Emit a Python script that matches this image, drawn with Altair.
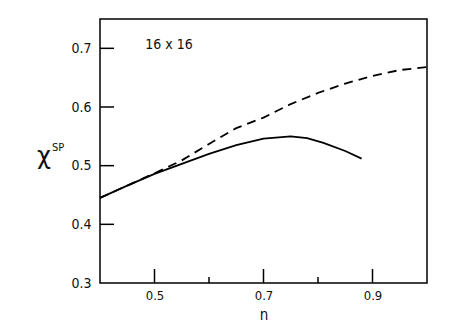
import altair as alt
import pandas as pd

# data
n_solid = [0.40, 0.45, 0.50, 0.55, 0.60, 0.65, 0.70, 0.75, 0.78, 0.81, 0.85, 0.88]
chi_solid = [0.445, 0.466, 0.486, 0.503, 0.520, 0.535, 0.546, 0.550, 0.547, 0.539, 0.525, 0.512]

n_dashed = [0.40, 0.45, 0.50, 0.55, 0.60, 0.65, 0.70, 0.75, 0.80, 0.85, 0.90, 0.95, 1.00]
chi_dashed = [0.445, 0.466, 0.487, 0.509, 0.537, 0.564, 0.582, 0.605, 0.624, 0.640, 0.653, 0.663, 0.668]

x_major = [0.5, 0.7, 0.9]
x_minor = [0.6, 0.8]
y_ticks = [0.4, 0.5, 0.6, 0.7]
y_labels = [0.3, 0.4, 0.5, 0.6, 0.7]

W, H = 327, 264
FONT = "DejaVu Sans Condensed"

solid = pd.DataFrame({"n": n_solid, "chi": chi_solid})
dashed = pd.DataFrame({"n": n_dashed, "chi": chi_dashed})

xs = alt.Scale(domain=[0.4, 1.0], nice=False, zero=False)
ys = alt.Scale(domain=[0.3, 0.75], nice=False, zero=False)

x_axis = alt.Axis(values=x_major, format=".1f", ticks=False, domain=False, grid=False,
                  labelFont=FONT, labelFontSize=13, labelColor="#111", labelPadding=6,
                  title=None)
y_axis = alt.Axis(values=y_labels, format=".1f", ticks=False, domain=False, grid=False,
                  labelFont=FONT, labelFontSize=14, labelColor="#111", labelPadding=9,
                  title=None)

frame = alt.Chart(pd.DataFrame({"a": [0]})).mark_rect(
    fill="transparent", stroke="black", strokeWidth=1.5
).encode(x=alt.value(0), x2=alt.value(W), y=alt.value(0), y2=alt.value(H))

l_solid = alt.Chart(solid).mark_line(color="black", strokeWidth=1.8).encode(
    x=alt.X("n:Q", scale=xs, axis=x_axis),
    y=alt.Y("chi:Q", scale=ys, axis=y_axis),
)
l_dashed = alt.Chart(dashed).mark_line(color="black", strokeWidth=1.8, strokeDash=[9, 6]).encode(
    x=alt.X("n:Q", scale=xs),
    y=alt.Y("chi:Q", scale=ys),
)

yt = alt.Chart(pd.DataFrame({"y": y_ticks})).mark_rule(color="black", strokeWidth=1.5).encode(
    y=alt.Y("y:Q", scale=ys), x=alt.value(0), x2=alt.value(14)
)
xmaj = alt.Chart(pd.DataFrame({"x": x_major})).mark_rule(color="black", strokeWidth=1.5).encode(
    x=alt.X("x:Q", scale=xs), y=alt.value(H), y2=alt.value(H - 14)
)
xmin = alt.Chart(pd.DataFrame({"x": x_minor})).mark_rule(color="black", strokeWidth=1.5).encode(
    x=alt.X("x:Q", scale=xs), y=alt.value(H), y2=alt.value(H - 6)
)

label16 = alt.Chart(pd.DataFrame({"t": ["16  x  16"]})).mark_text(
    font=FONT, fontSize=14, color="#111", align="center", baseline="middle"
).encode(text="t:N", x=alt.value(69), y=alt.value(26))

chi = alt.Chart(pd.DataFrame({"t": ["χ"]})).mark_text(
    font="DejaVu Sans", fontSize=24, color="#111", align="center", baseline="middle"
).encode(text="t:N", x=alt.value(-56), y=alt.value(138))

sp = alt.Chart(pd.DataFrame({"t": ["SP"]})).mark_text(
    font=FONT, fontSize=11, color="#111", align="center", baseline="middle"
).encode(text="t:N", x=alt.value(-42), y=alt.value(129))

ntitle = alt.Chart(pd.DataFrame({"t": ["n"]})).mark_text(
    font=FONT, fontSize=15, color="#111", align="center", baseline="middle"
).encode(text="t:N", x=alt.value(164), y=alt.value(296))

chart = alt.layer(frame, l_dashed, l_solid, yt, xmaj, xmin, label16, chi, sp, ntitle).properties(
    width=W, height=H,
    autosize=alt.AutoSizeParams(type="none"),
    padding={"left": 92, "top": 11, "right": 30, "bottom": 41},
).configure(
    background="white",
    view=alt.ViewConfig(stroke="transparent"),
)

chart.save("out.html", embed_options={"renderer": "svg", "actions": False})
